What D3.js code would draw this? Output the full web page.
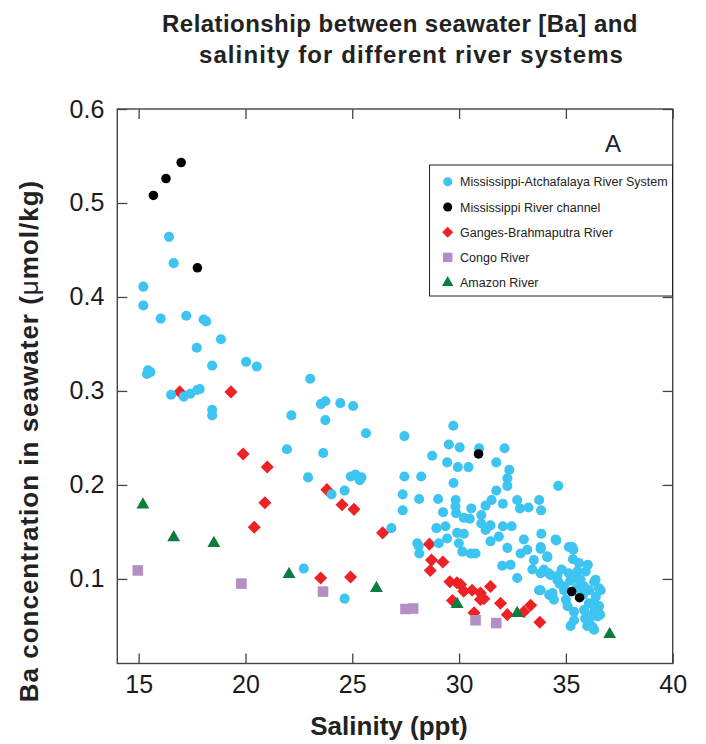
<!DOCTYPE html>
<html>
<head>
<meta charset="utf-8">
<script src="https://cdn.jsdelivr.net/npm/d3@7"></script>
<style>
  body { margin: 0; background: #fff; }
  text { font-family: "Liberation Sans", Arial, Helvetica, sans-serif; fill: #1a1a1a; }
</style>
</head>
<body>
<svg id="chart"></svg>
<script>
// salinity (ppt), Ba (umol/kg)
var mississippiAtchafalaya = [
  [16.42,0.464],[16.64,0.436],[15.22,0.411],[15.22,0.391],[16.03,0.377],[17.23,0.380],
  [18.04,0.376],[18.16,0.374],[18.85,0.355],[17.72,0.346],[18.44,0.327],[20.03,0.331],
  [20.53,0.326],[15.44,0.322],[15.55,0.320],[15.39,0.318],[16.52,0.296],[17.11,0.294],
  [17.42,0.297],[17.74,0.301],[17.86,0.302],[18.44,0.280],[18.44,0.274],[23.03,0.313],
  [23.53,0.286],[23.74,0.289],[24.44,0.287],[25.04,0.284],[22.15,0.274],[23.74,0.269],
  [25.64,0.255],[27.44,0.252],[21.94,0.238],[23.64,0.234],[22.93,0.208],[24.93,0.209],
  [25.15,0.211],[25.43,0.208],[25.35,0.205],[24.03,0.190],[24.64,0.194],[22.73,0.111],
  [24.64,0.079],[27.44,0.209],[28.23,0.209],[28.74,0.231],[29.73,0.263],[29.52,0.243],
  [30.03,0.240],[30.94,0.239],[32.13,0.239],[29.44,0.224],[29.94,0.219],[30.44,0.219],
  [31.74,0.224],[32.35,0.216],[32.26,0.207],[32.26,0.199],[29.74,0.202],[34.64,0.199],
  [27.36,0.190],[28.13,0.185],[29.02,0.185],[29.84,0.184],[31.74,0.194],[31.52,0.184],
  [32.05,0.180],[31.24,0.178],[32.72,0.184],[33.75,0.184],[32.85,0.175],[33.25,0.176],
  [33.84,0.173],[27.36,0.173],[29.83,0.177],[29.86,0.170],[30.57,0.175],[29.25,0.171],
  [30.22,0.165],[30.50,0.164],[31.04,0.168],[31.04,0.159],[31.47,0.157],[31.24,0.152],
  [32.05,0.156],[32.46,0.156],[28.94,0.154],[29.36,0.156],[26.83,0.154],[29.91,0.149],
  [30.22,0.148],[29.44,0.143],[29.99,0.138],[30.15,0.129],[30.54,0.127],[30.77,0.127],
  [31.47,0.140],[31.86,0.145],[32.26,0.133],[33.03,0.142],[33.85,0.148],[34.52,0.142],
  [33.82,0.134],[28.04,0.138],[28.14,0.127],[29.05,0.138],[28.11,0.135],[32.88,0.127],
  [33.19,0.131],[33.50,0.120],[34.13,0.124],[32.02,0.114],[32.41,0.115],[32.72,0.101],
  [33.43,0.110],[33.82,0.106],[34.20,0.106],[34.60,0.103],[35.14,0.134],[35.30,0.134],
  [35.35,0.131],[35.33,0.121],[35.61,0.117],[36.03,0.115],[35.93,0.108],[33.97,0.110],
  [34.29,0.104],[34.60,0.099],[35.14,0.106],[35.54,0.108],[36.32,0.097],[36.55,0.090],
  [36.40,0.081],[36.55,0.071],[36.48,0.060],[36.24,0.049],[36.32,0.046],[35.22,0.050],
  [33.74,0.088],[34.22,0.083],[34.44,0.078],[34.91,0.088],[34.91,0.092],[35.00,0.078],
  [35.08,0.071],[35.38,0.065],[35.85,0.067],[36.16,0.060],[36.08,0.055],[35.69,0.099],
  [35.85,0.092],[36.08,0.074],[36.32,0.065],[36.39,0.099],[36.63,0.088],[35.38,0.056],
  [34.37,0.085],[33.82,0.088],[34.55,0.141],[33.82,0.132],[34.13,0.123],[35.50,0.090],
  [35.80,0.083],[36.10,0.088],[36.30,0.072],[35.90,0.058],[36.60,0.062],[36.00,0.050],
  [34.70,0.095],[35.20,0.098],[34.80,0.110],[35.50,0.100]
];
var mississippiChannel = [
  [15.69,0.508],[16.28,0.526],[16.99,0.543],[17.75,0.431],[30.91,0.233],[35.27,0.0865],[35.64,0.080]
];
var gangesBrahmaputra = [
  [16.92,0.299],[19.32,0.299],[19.89,0.233],[21.02,0.219],[20.91,0.181],[20.41,0.155],
  [23.81,0.195],[24.52,0.179],[25.08,0.174],[23.52,0.101],[24.92,0.102],[26.42,0.149],
  [28.61,0.137],[28.71,0.120],[29.24,0.118],[28.65,0.109],[29.57,0.097],[29.90,0.096],
  [30.07,0.094],[30.22,0.087],[30.61,0.088],[31.00,0.085],[31.16,0.079],[31.47,0.092],
  [31.00,0.078],[29.69,0.077],[30.70,0.064],[31.94,0.074],[32.26,0.062],[33.03,0.065],
  [33.35,0.072],[33.78,0.054]
];
var congo = [
  [14.96,0.109],[19.81,0.095],[23.63,0.0865],[27.49,0.068],[27.85,0.0685],[30.77,0.056],[31.74,0.053]
];
var amazon = [
  [15.20,0.179],[16.64,0.144],[18.52,0.138],[22.04,0.105],[26.13,0.090],[29.91,0.073],[32.72,0.0635],[37.05,0.041]
];

var xTicks = [15, 20, 25, 30, 35, 40];
var yTicks = [0.1, 0.2, 0.3, 0.4, 0.5, 0.6];
var legendLabels = ["Mississippi-Atchafalaya River System", "Mississippi River channel",
                    "Ganges-Brahmaputra River", "Congo River", "Amazon River"];

var screen = {width: 706, height: 744};
var plot = {left: 117.3, right: 672.7, top: 109, bottom: 663.5};

var svg = d3.select("#chart")
    .attr("width", screen.width)
    .attr("height", screen.height);

var xScale = d3.scaleLinear().domain([14, 40]).range([plot.left, plot.right]);
var yScale = d3.scaleLinear().domain([0.01, 0.6]).range([plot.bottom, plot.top]);

// title
var title = svg.append("text")
    .attr("text-anchor", "middle")
    .style("font-weight", "bold")
    .style("font-size", "24px")
    .style("fill", "#222");
title.append("tspan").attr("x", 400).attr("y", 31.5)
    .style("letter-spacing", "0.45px")
    .text("Relationship between seawater [Ba] and");
title.append("tspan").attr("x", 411.5).attr("y", 63)
    .style("letter-spacing", "1.1px")
    .text("salinity for different river systems");

// axes, ticks pointing inward on all four sides
var axisStyle = function(g)
{
    g.select(".domain").remove();
    g.selectAll(".tick line").attr("stroke", "#444").attr("stroke-width", 1.3);
    g.selectAll(".tick text").style("font-size", "25px").attr("fill", "#1a1a1a");
}

svg.append("g")
    .attr("transform", "translate(0," + plot.bottom + ")")
    .call(d3.axisBottom(xScale).tickValues(xTicks).tickSizeInner(-10).tickSizeOuter(0).tickPadding(12).tickFormat(d3.format("d")))
    .call(axisStyle);
svg.append("g")
    .attr("transform", "translate(0," + plot.top + ")")
    .call(d3.axisTop(xScale).tickValues(xTicks).tickSizeInner(-10).tickSizeOuter(0).tickFormat(""))
    .call(axisStyle);
svg.append("g")
    .attr("transform", "translate(" + plot.left + ",0)")
    .call(d3.axisLeft(yScale).tickValues(yTicks).tickSizeInner(-10).tickSizeOuter(0).tickPadding(13).tickFormat(d3.format(".1f")))
    .call(axisStyle);
svg.append("g")
    .attr("transform", "translate(" + plot.right + ",0)")
    .call(d3.axisRight(yScale).tickValues(yTicks).tickSizeInner(-10).tickSizeOuter(0).tickFormat(""))
    .call(axisStyle);

svg.append("rect")
    .attr("x", plot.left).attr("y", plot.top)
    .attr("width", plot.right - plot.left).attr("height", plot.bottom - plot.top)
    .attr("fill", "none").attr("stroke", "#444").attr("stroke-width", 1.4);

// axis titles
svg.append("text")
    .attr("x", 389).attr("y", 735)
    .attr("text-anchor", "middle")
    .style("font-weight", "bold").style("font-size", "26px").style("fill", "#222")
    .text("Salinity (ppt)");

var yTitle = svg.append("text")
    .attr("transform", "translate(38,441) rotate(-90)")
    .attr("text-anchor", "middle")
    .style("font-weight", "bold").style("font-size", "26px")
    .style("letter-spacing", "1px").style("fill", "#222");
yTitle.append("tspan").text("Ba concentration in seawater (");
yTitle.append("tspan").style("font-weight", "normal").text("\u03bc");
yTitle.append("tspan").text("mol/kg)");

// series
var series = [
  {data: gangesBrahmaputra, type: d3.symbolSquare, size: 85, rotate: 45, color: "#ec2227", legendSize: 60},
  {data: congo, type: d3.symbolSquare, size: 112, rotate: 0, color: "#b48fc3", legendSize: 90},
  {data: mississippiAtchafalaya, type: d3.symbolCircle, size: 80, rotate: 0, color: "#3ec4f0", legendSize: 64},
  {data: mississippiChannel, type: d3.symbolCircle, size: 72, rotate: 0, color: "#000000", legendSize: 64},
  {data: amazon, type: d3.symbolTriangle, size: 72, rotate: 0, color: "#0b7d3e", legendSize: 56}
];

var marks = svg.append("g").classed("graph", true);

series.forEach(function(s)
{
    marks.append("g")
        .selectAll("path")
        .data(s.data)
        .enter()
        .append("path")
        .attr("d", d3.symbol().type(s.type).size(s.size))
        .attr("transform", function(d)
        {
            return "translate(" + xScale(d[0]) + "," + yScale(d[1]) + ") rotate(" + s.rotate + ")";
        })
        .attr("fill", s.color);
});

// panel letter
svg.append("text")
    .attr("x", 613).attr("y", 151.5)
    .attr("text-anchor", "middle")
    .style("font-size", "24px").style("fill", "#222")
    .text("A");

// legend, in legend order
var legendOrder = [series[2], series[3], series[0], series[1], series[4]];
var legend = svg.append("g");
legend.append("rect")
    .attr("x", 429.5).attr("y", 165)
    .attr("width", 243).attr("height", 131)
    .attr("fill", "#fff").attr("stroke", "#222").attr("stroke-width", 1);

var rows = legend.selectAll("g.row")
    .data(legendLabels)
    .enter()
    .append("g")
    .classed("row", true)
    .attr("transform", function(d, i) { return "translate(0," + (181.8 + i * 25.2) + ")"; });

rows.append("path")
    .attr("d", function(d, i) { return d3.symbol().type(legendOrder[i].type).size(legendOrder[i].legendSize)(); })
    .attr("transform", function(d, i) { return "translate(447.7,0) rotate(" + legendOrder[i].rotate + ")"; })
    .attr("fill", function(d, i) { return legendOrder[i].color; });

rows.append("text")
    .attr("x", 460).attr("y", 4.5)
    .style("font-size", "12.5px").style("fill", "#222")
    .text(function(d) { return d; });
</script>
</body>
</html>
